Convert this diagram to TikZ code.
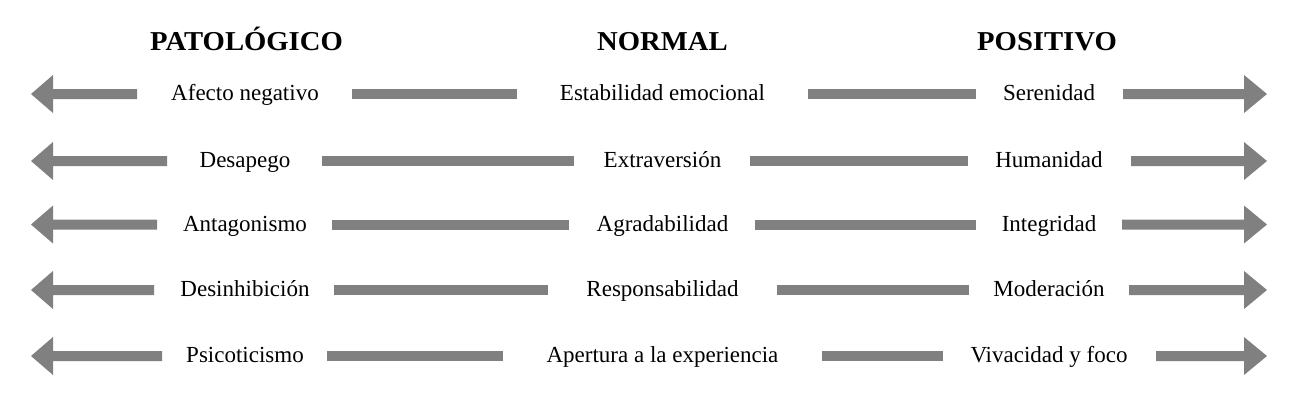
\documentclass[tikz,border=0pt]{standalone}
\usepackage{fontspec}
\setmainfont{Liberation Serif}
\definecolor{arrgray}{RGB}{128,128,128}
\newcommand{\larr}[2]{\fill[arrgray] (31,#1) -- (53,#1-19) -- (53,#1-5) -- (#2,#1-5) -- (#2,#1+5) -- (53,#1+5) -- (53,#1+19) -- cycle;}
\newcommand{\rarr}[2]{\fill[arrgray] (1267,#1) -- (1244,#1-19) -- (1244,#1-5) -- (#2,#1-5) -- (#2,#1+5) -- (1244,#1+5) -- (1244,#1+19) -- cycle;}
\newcommand{\midbar}[3]{\fill[arrgray] (#2,#1-5) rectangle (#3,#1+5);}
\begin{document}
\begin{tikzpicture}[x=1pt,y=-1pt,
  lbl/.style={anchor=base,inner sep=0pt,font=\fontsize{23}{26}\selectfont},
  hdr/.style={anchor=base,inner sep=0pt,xscale=1.05,font=\fontsize{27.3}{30}\selectfont\bfseries}]
\useasboundingbox (0,0) rectangle (1298,408);
\node[hdr] (h1) at (246.5,50) {PATOLÓGICO};
\node[hdr] (h2) at (662.5,50) {NORMAL};
\node[hdr] (h3) at (1047,50) {POSITIVO};
% row 1
\larr{94}{137}\midbar{94}{352}{517}\midbar{94}{808}{976}\rarr{94}{1123}
\node[lbl] (a1) at (245,100.5) {Afecto negativo};
\node[lbl] (b1) at (662.5,100.5) {Estabilidad emocional};
\node[lbl] (c1) at (1049,100.5) {Serenidad};
% row 2
\larr{161}{167}\midbar{161}{322}{574}\midbar{161}{750}{968}\rarr{161}{1131}
\node[lbl] (a2) at (245,167.5) {Desapego};
\node[lbl] (b2) at (662.5,167.5) {Extraversión};
\node[lbl] (c2) at (1049,167.5) {Humanidad};
% row 3
\larr{224.5}{157}\midbar{224.5}{332}{569}\midbar{224.5}{755}{976}\rarr{224.5}{1122}
\node[lbl] (a3) at (245,231) {Antagonismo};
\node[lbl] (b3) at (662.5,231) {Agradabilidad};
\node[lbl] (c3) at (1049,231) {Integridad};
% row 4
\larr{290}{154}\midbar{290}{334}{548}\midbar{290}{777}{969}\rarr{290}{1129}
\node[lbl] (a4) at (245,296.5) {Desinhibición};
\node[lbl] (b4) at (662.5,296.5) {Responsabilidad};
\node[lbl] (c4) at (1049,296.5) {Moderación};
% row 5
\larr{356}{162}\midbar{356}{327}{503}\midbar{356}{822}{943}\rarr{356}{1156}
\node[lbl] (a5) at (245,362.5) {Psicoticismo};
\node[lbl] (b5) at (662.5,362.5) {Apertura a la experiencia};
\node[lbl] (c5) at (1049,362.5) {Vivacidad y foco};
\end{tikzpicture}
\end{document}
